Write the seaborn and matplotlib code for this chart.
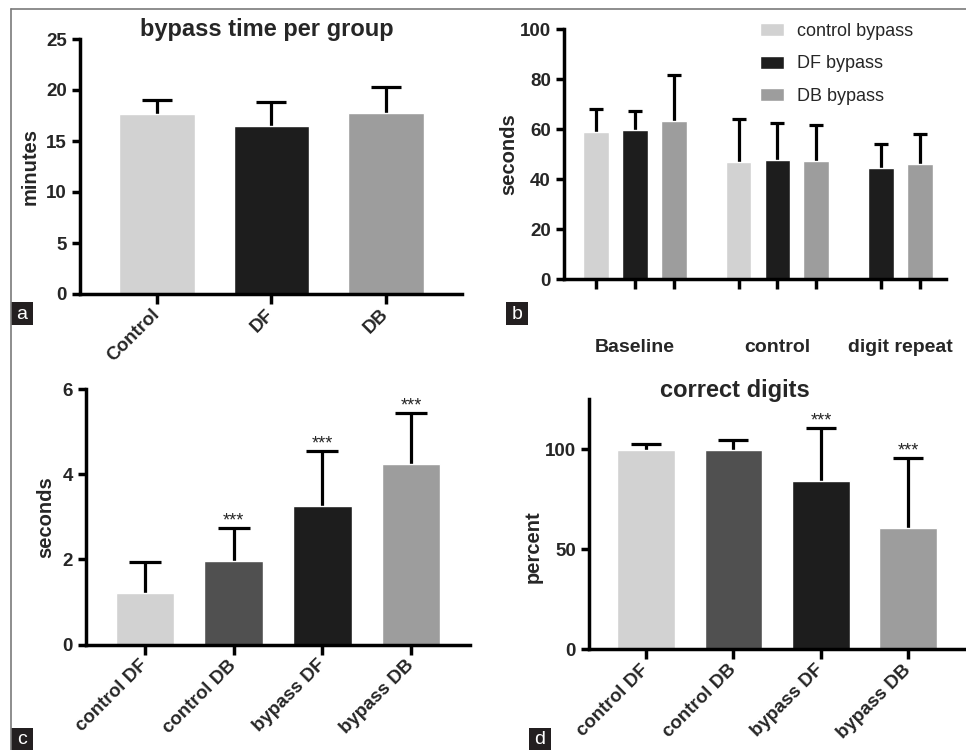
import numpy as np
import pandas as pd
import seaborn as sns
import matplotlib.pyplot as plt
from matplotlib.patches import Rectangle
from matplotlib.lines import Line2D

# panel a: bypass time per group
a_groups = ["Control", "DF", "DB"]
a_mean = [17.6, 16.5, 17.7]
a_err = [1.4, 2.35, 2.6]

# panel b: seconds per phase
b_phases = ["Baseline", "control", "digit repeat"]
b_series = ["control bypass", "DF bypass", "DB bypass"]
b_phase = ["Baseline"] * 3 + ["control"] * 3 + ["digit repeat"] * 2
b_group = b_series + b_series + ["DF bypass", "DB bypass"]
b_mean = [58.8, 59.7, 63.4, 47.0, 47.8, 47.2, 44.4, 46.1]
b_err = [9.3, 7.6, 18.4, 17.1, 14.6, 14.5, 9.6, 11.9]

# panel c: seconds per condition
c_groups = ["control DF", "control DB", "bypass DF", "bypass DB"]
c_mean = [1.21, 1.97, 3.26, 4.23]
c_err = [0.72, 0.76, 1.28, 1.20]
c_stars = ["", "***", "***", "***"]

# panel d: correct digits
d_groups = ["control DF", "control DB", "bypass DF", "bypass DB"]
d_mean = [99.8, 99.7, 84.2, 60.8]
d_err = [2.7, 5.0, 26.3, 34.7]
d_stars = ["", "", "***", "***"]

LIGHT = '#d2d2d2'
BLACK = '#1d1d1d'
GRAY = '#9d9d9d'
DARK = '#505050'

sns.set_style('ticks')
plt.rcParams['font.family'] = ['Liberation Sans', 'DejaVu Sans']
plt.rcParams['font.weight'] = 'bold'
plt.rcParams['axes.labelweight'] = 'bold'
plt.rcParams['axes.linewidth'] = 2.5
plt.rcParams['axes.edgecolor'] = 'black'

W, H = 966, 750


def px_axes(fig, x0, x1, ytop, ybot):
    return fig.add_axes([x0 / W, 1 - ybot / H, (x1 - x0) / W, (ybot - ytop) / H])


def style_axes(ax):
    sns.despine(ax=ax)
    ax.tick_params(axis='y', length=6, width=2.5, labelsize=13.5, color='black')
    ax.tick_params(axis='x', length=7, width=2.5, labelsize=13.5, color='black')
    ax.set_xlabel('')


def add_errors(ax, x, y, err, capsize):
    # only the upper half of the error bar, as in the original
    eb = ax.errorbar(x, y, yerr=[np.zeros(len(err)), err], fmt='none', ecolor='black',
                     elinewidth=2.3, capsize=capsize, capthick=2.3, zorder=1)
    eb[1][0].set_visible(False)


def bar_panel(ax, labels, means, errs, colors, capsize, stars=None):
    df = pd.DataFrame({"group": labels, "value": means, "err": errs})
    sns.barplot(data=df, x="group", y="value", hue="group", palette=colors,
                width=0.66, errorbar=None, saturation=1, legend=False, ax=ax, zorder=2)
    bars = sorted(ax.patches, key=lambda p: p.get_x())
    xs = [p.get_x() + p.get_width() / 2 for p in bars]
    add_errors(ax, xs, df["value"], df["err"], capsize)
    if stars is not None:
        for x, top, s in zip(xs, df["value"] + df["err"], stars):
            if s:
                ax.annotate(s, (x, top), xytext=(0, 2), textcoords='offset points',
                            ha='center', va='baseline', fontsize=13, fontweight='normal')
    style_axes(ax)
    ax.set_xticks(range(len(labels)))
    ax.set_xticklabels(labels, rotation=45, ha='right', va='center', rotation_mode='anchor')
    ax.tick_params(axis='x', pad=6)
    return xs


fig = plt.figure(figsize=(W / 100, H / 100), dpi=100)

# --- a ---
ax_a = px_axes(fig, 80, 462, 39, 294)
bar_panel(ax_a, a_groups, a_mean, a_err, [LIGHT, BLACK, GRAY], 11)
ax_a.set_xlim(-0.672, 2.664)
ax_a.set_ylim(0, 25)
ax_a.set_yticks([0, 5, 10, 15, 20, 25])
ax_a.set_ylabel('minutes', fontsize=14.5)
ax_a.yaxis.set_label_coords(-0.105, 0.5)
ax_a.text(0.49, 1.01, 'bypass time per group', transform=ax_a.transAxes,
          ha='center', va='baseline', fontsize=17)

# --- b ---
ax_b = px_axes(fig, 564, 946, 29.3, 279.3)
b_df = pd.DataFrame({"phase": b_phase, "series": b_group, "value": b_mean, "err": b_err})
b_df["pos"] = b_df["phase"].map({p: i * 3.66 for i, p in enumerate(b_phases)}) \
    + b_df.groupby("phase").cumcount()
sns.barplot(data=b_df, x="pos", y="value", hue="series", hue_order=b_series,
            palette=[LIGHT, BLACK, GRAY], native_scale=True, dodge=False, width=0.66,
            errorbar=None, saturation=1, ax=ax_b, zorder=2)
add_errors(ax_b, b_df["pos"], b_df["value"], b_df["err"], 5)
style_axes(ax_b)
ax_b.xaxis.remove_overlapping_locs = False
ax_b.set_xticks(b_df["pos"], labels=[""] * len(b_df))
centers = b_df.groupby("phase", sort=False)["pos"].mean()
ax_b.set_xticks(centers.values, labels=list(centers.index), minor=True)
ax_b.tick_params(axis='x', which='minor', length=0, pad=43, labelsize=14)
ax_b.set_xlim(-0.83, 8.996)
ax_b.set_ylim(0, 100)
ax_b.set_yticks([0, 20, 40, 60, 80, 100])
ax_b.set_ylabel('seconds', fontsize=14.5)
ax_b.yaxis.set_label_coords(-0.12, 0.5)
sns.move_legend(ax_b, 'upper left', bbox_to_anchor=(0.513, 1.025), title=None,
                frameon=False, borderpad=0, borderaxespad=0, handlelength=1.33,
                handleheight=0.72, handletextpad=0.72, labelspacing=0.85,
                prop={'size': 13, 'weight': 'normal'})

# --- c ---
ax_c = px_axes(fig, 86, 470, 389, 644.7)
bar_panel(ax_c, c_groups, c_mean, c_err, [LIGHT, DARK, BLACK, GRAY], 11.5, c_stars)
ax_c.set_xlim(-0.665, 3.665)
ax_c.set_ylim(0, 6)
ax_c.set_yticks([0, 2, 4, 6])
ax_c.set_ylabel('seconds', fontsize=14.5)
ax_c.yaxis.set_label_coords(-0.081, 0.5)

# --- d ---
ax_d = px_axes(fig, 589, 966, 399.3, 649.3)
bar_panel(ax_d, d_groups, d_mean, d_err, [LIGHT, DARK, BLACK, GRAY], 11, d_stars)
ax_d.set_xlim(-0.653, 3.66)
ax_d.set_ylim(0, 125)
ax_d.set_yticks([0, 50, 100])
ax_d.set_ylabel('percent', fontsize=14.5)
ax_d.yaxis.set_label_coords(-0.122, 0.41)
ax_d.text(0.386, 1.01, 'correct digits', transform=ax_d.transAxes,
          ha='center', va='baseline', fontsize=17)

# frame and panel letters
fig.add_artist(Line2D([11 / W, 11 / W], [0, 1 - 9 / H], color='#7a7a7a', lw=1.2,
                      transform=fig.transFigure))
fig.add_artist(Line2D([11 / W, 1], [1 - 9 / H, 1 - 9 / H], color='#7a7a7a', lw=1.2,
                      transform=fig.transFigure))
for letter, x0, y0 in [('a', 11, 302), ('b', 506, 302), ('c', 11, 728), ('d', 529, 728)]:
    fig.add_artist(Rectangle((x0 / W, 1 - (y0 + 23) / H), 22 / W, 23 / H,
                             transform=fig.transFigure, fc='#231f20', ec='none'))
    fig.text((x0 + 11) / W, 1 - (y0 + 12) / H, letter, color='white', fontsize=14,
             fontweight='normal', ha='center', va='center')

fig.savefig('out.png', dpi=100)
